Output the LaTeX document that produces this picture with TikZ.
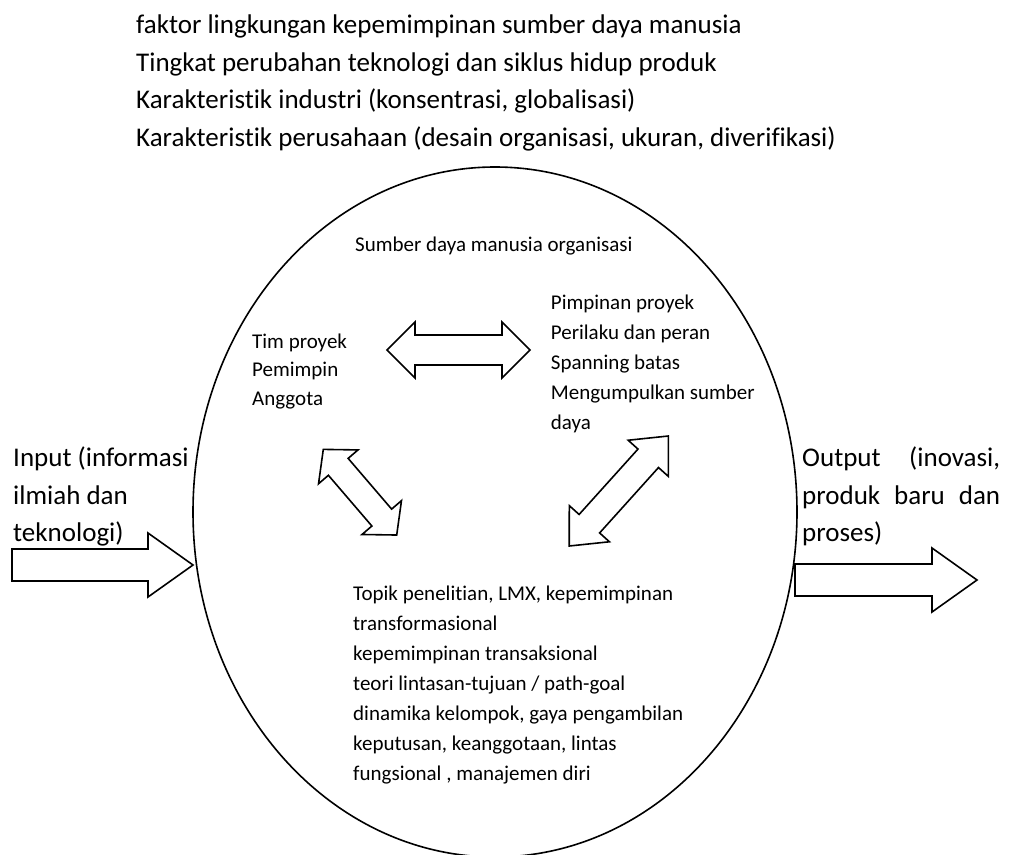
\documentclass[tikz,border=0pt]{standalone}
\usepackage{fontspec}
\setmainfont{Carlito}[RawFeature={-liga}]
\usetikzlibrary{shapes.geometric}
\tikzset{
  outline/.style={draw=black, line width=1.6pt, line join=miter},
  toptxt/.style={inner sep=0pt, anchor=base west, font=\fontsize{27}{37.5}\selectfont},
  bigtxt/.style={inner sep=0pt, anchor=base west, font=\fontsize{27}{37.5}\selectfont},
  smalltxtA/.style={inner sep=0pt, anchor=base west, font=\fontsize{21}{28.5}\selectfont},
  smalltxtB/.style={inner sep=0pt, anchor=base west, font=\fontsize{21}{30}\selectfont},
  pics/dblarrow/.style n args={4}{code={
    \draw[outline] ({-(#1)/2},0) -- ({-(#1)/2+(#2)},{#3}) -- ({-(#1)/2+(#2)},{#4})
      -- ({(#1)/2-(#2)},{#4}) -- ({(#1)/2-(#2)},{#3}) -- ({(#1)/2},0)
      -- ({(#1)/2-(#2)},{-(#3)}) -- ({(#1)/2-(#2)},{-(#4)})
      -- ({-(#1)/2+(#2)},{-(#4)}) -- ({-(#1)/2+(#2)},{-(#3)}) -- cycle;
  }}
}
\begin{document}
\begin{tikzpicture}[x=1pt,y=-1pt]
\useasboundingbox (0,0) rectangle (1009,854);
\fill[white] (0,0) rectangle (1009,854);

% organisation ellipse
\node[ellipse, outline, minimum width=604pt, minimum height=690pt, inner sep=0pt] (org) at (495,512) {};

% environment factors
\node[toptxt] (env) at (136,33.5) {\begin{tabular}[t]{@{}l@{}}
faktor lingkungan kepemimpinan sumber daya manusia\\
Tingkat perubahan teknologi dan siklus hidup produk\\
Karakteristik industri (konsentrasi, globalisasi)\\
Karakteristik perusahaan (desain organisasi, ukuran, diverifikasi)
\end{tabular}};

% input / output labels
\node[bigtxt] (inlbl) at (13,466.7) {\begin{tabular}[t]{@{}l@{}}
Input (informasi\\
ilmiah dan\\
teknologi)
\end{tabular}};
\node[bigtxt] (outlbl) at (802,466.7) {\begin{tabular}[t]{@{}l@{}}
\makebox[198pt][s]{Output (inovasi,}\\
\makebox[198pt][s]{produk baru dan}\\
proses)
\end{tabular}};

% inner texts
\node[smalltxtB] (sdm) at (355,251) {Sumber daya manusia organisasi};
\node[smalltxtA] (tim) at (252,348) {\begin{tabular}[t]{@{}l@{}}
Tim proyek\\
Pemimpin\\
Anggota
\end{tabular}};
\node[smalltxtB] (pim) at (550.7,309) {\begin{tabular}[t]{@{}l@{}}
Pimpinan proyek\\
Perilaku dan peran\\
Spanning batas\\
Mengumpulkan sumber\\
daya
\end{tabular}};
\node[smalltxtB] (top) at (353,600) {\begin{tabular}[t]{@{}l@{}}
Topik penelitian, LMX, kepemimpinan\\
transformasional\\
kepemimpinan transaksional\\
teori lintasan-tujuan / path-goal\\
dinamika kelompok, gaya pengambilan\\
keputusan, keanggotaan, lintas\\
fungsional , manajemen diri
\end{tabular}};

% double block arrows inside
\pic (hor) at (458.5,350) {dblarrow={143}{28}{28}{15}};
\pic[rotate=-49.4] (dl) at (360,492.2) {dblarrow={112.8}{23}{26}{13}};
\pic[rotate=48] (dr) at (618.8,491) {dblarrow={148}{30}{27}{13.8}};

% input block arrow
\draw[outline] (12,549) -- (148,549) -- (148,533) -- (193,565) -- (148,597) -- (148,581) -- (12,581) -- cycle;
% output block arrow
\draw[outline] (795,564) -- (932,564) -- (932,548) -- (977,580) -- (932,612) -- (932,596) -- (795,596) -- cycle;
\end{tikzpicture}
\end{document}
